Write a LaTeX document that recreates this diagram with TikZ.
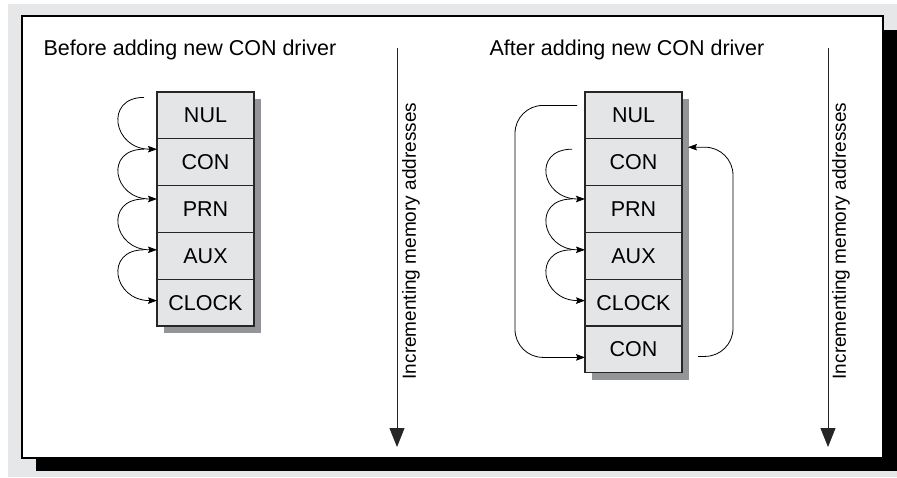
\documentclass[tikz,border=0pt]{standalone}
\usepackage{fontspec}
\setmainfont{Liberation Sans}
\usetikzlibrary{positioning,arrows.meta,backgrounds,calc}
\definecolor{panelgray}{HTML}{E6E7E8}
\definecolor{slotgray}{HTML}{E4E5E6}
\definecolor{shadegray}{HTML}{939598}
\begin{document}
\begin{tikzpicture}[
  x=1pt, y=-1pt, font=\fontsize{21.5}{25}\selectfont, node distance=0pt,
  slot/.style={draw=black!85, line width=1.1pt, fill=slotgray, outer sep=0pt,
               inner sep=0pt, minimum width=97pt, minimum height=46.8pt},
  hop/.style={-{Stealth[length=9pt, width=6.5pt, inset=1.5pt]}, line width=0.8pt},
  addr/.style={-{Triangle[length=19pt, width=15pt]}, line width=0.9pt, draw=black!85},
  memlabel/.style={rotate=90, font=\fontsize{19}{22}\selectfont},
]
  \useasboundingbox (0,0) rectangle (897,477);
  \begin{scope}[on background layer]
    \fill[panelgray] (8,4) rectangle (897,477);
    \fill[black] (36,30) rectangle (897,471);
    \draw[line width=2.4pt, fill=white] (22,16) rectangle (883,458);
  \end{scope}

  \node[anchor=base west] (before) at (40,55) {Before adding new CON driver};
  \node[anchor=base west] (after) at (486,55) {After adding new CON driver};

  \node[slot] (lnul) at (205.5,115.4) {NUL};
  \node[slot, below=of lnul] (lcon) {CON};
  \node[slot, below=of lcon] (lprn) {PRN};
  \node[slot, below=of lprn] (laux) {AUX};
  \node[slot, below=of laux] (lclock) {CLOCK};

  \node[slot] (rnul) at (633.5,115.4) {NUL};
  \node[slot, below=of rnul] (rcon) {CON};
  \node[slot, below=of rcon] (rprn) {PRN};
  \node[slot, below=of rprn] (raux) {AUX};
  \node[slot, below=of raux] (rclock) {CLOCK};
  \node[slot, below=of rclock] (rnew) {CON};

  \begin{scope}[on background layer]
    \fill[shadegray] ([shift={(7,7)}]lnul.north west) rectangle ([shift={(7,7)}]lclock.south east);
    \fill[shadegray] ([shift={(7,7)}]rnul.north west) rectangle ([shift={(7,7)}]rnew.south east);
  \end{scope}

  \foreach \a/\b/\ya/\yb in {lnul/lcon/-18/-13, lcon/lprn/-13/-10, lprn/laux/-10/-6,
                             laux/lclock/-6/-2, rcon/rprn/-13/-10, rprn/raux/-10/-6,
                             raux/rclock/-6/-2}
    \draw[hop] ([shift={(-13,\ya)}]\a.west) .. controls +(-40,0) and +(-44,0)
               .. ([shift={(0,\yb)}]\b.west);

  \draw[hop, rounded corners=28pt] ([shift={(-8,-10)}]rnul.west)
        -| ([shift={(-70,8)}]rnew.west) -- ([shift={(0,8)}]rnew.west);
  \draw[hop, rounded corners=28pt] ([shift={(16,7)}]rnew.east)
        -| ([shift={(51,-15)}]rcon.east) -- ([shift={(6,-15)}]rcon.east);

  \coordinate (ltop) at (397,48);
  \coordinate (lend) at (397,447);
  \draw[addr] (ltop) -- (lend);
  \node[memlabel] (lmem) at (411,241) {Incrementing memory addresses};

  \coordinate (rtop) at (828,48);
  \coordinate (rend) at (828,447);
  \draw[addr] (rtop) -- (rend);
  \node[memlabel] (rmem) at (841,241) {Incrementing memory addresses};
\end{tikzpicture}
\end{document}
